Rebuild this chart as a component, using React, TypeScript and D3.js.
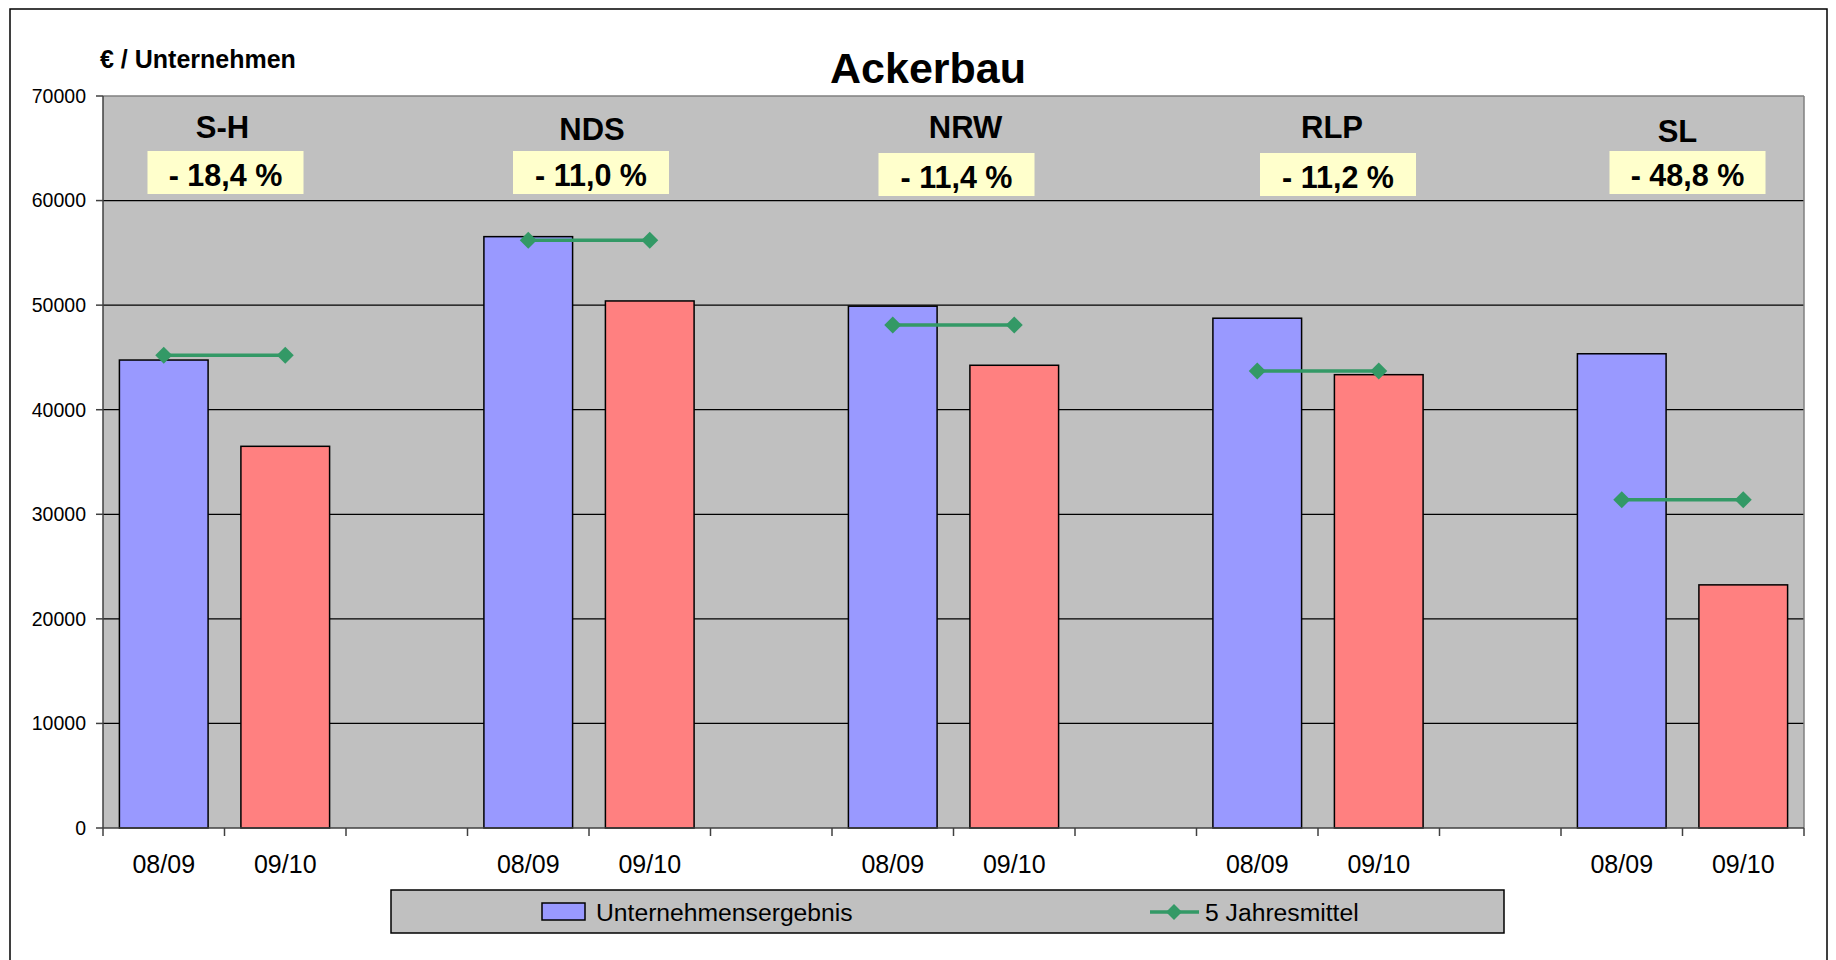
import React from "react";
import * as d3 from "d3";

const regions = ["S-H", "NDS", "NRW", "RLP", "SL"];
const changes = ["- 18,4 %", "- 11,0 %", "- 11,4 %", "- 11,2 %", "- 48,8 %"];
const years = ["08/09", "09/10"];
const result0809 = [44750, 56550, 49900, 48750, 45350];
const result0910 = [36500, 50400, 44250, 43350, 23250];
const avg5 = [45200, 56200, 48100, 43700, 31400];
const yTicks = [0, 10000, 20000, 30000, 40000, 50000, 60000, 70000];

// hand placed annotation nudges (text boxes in the original)
const labelNudge = [[-2, 0], [3, 2], [12, 0], [14, 0], [-5, 4]];
const boxNudge = [[1, 0], [2, 0], [3, 2], [20, 2], [5, 0]];

const FONT = "'Liberation Sans', Arial, sans-serif";
const W = 1836;
const H = 960;
const left = 103;
const right = 1804;
const top = 96;
const bottom = 828;

// slots: 08/09, 09/10, gap ... (no gap after last group)
const slots: { region: number; year: number }[] = [];
regions.forEach((_, r) => {
  years.forEach((_, yi) => slots.push({ region: r, year: yi }));
  if (r < regions.length - 1) slots.push({ region: r, year: -1 });
});

export default function App() {
  const x = d3
    .scaleBand<number>()
    .domain(slots.map((_, i) => i))
    .range([left, right])
    .padding(0);
  const bw = x.bandwidth();
  const y = d3.scaleLinear().domain([0, 70000]).range([bottom, top]);

  const slotIndex = (r: number, yi: number) =>
    slots.findIndex((s) => s.region === r && s.year === yi);
  const cx = (i: number) => (x(i) as number) + bw / 2;

  const bars: { i: number; v: number; fill: string }[] = [];
  regions.forEach((_, r) => {
    bars.push({ i: slotIndex(r, 0), v: result0809[r], fill: "#9999FF" });
    bars.push({ i: slotIndex(r, 1), v: result0910[r], fill: "#FF8080" });
  });

  const line = d3
    .line<[number, number]>()
    .x((d) => d[0])
    .y((d) => d[1]);

  const diamond = (px: number, py: number, s: number) =>
    `M${px},${py - s}L${px + s},${py}L${px},${py + s}L${px - s},${py}Z`;

  const boundaries = d3.range(slots.length + 1).map((i) =>
    i === slots.length ? right : (x(i) as number)
  );

  return (
    <svg
      width={W}
      height={H}
      style={{ position: "absolute", left: 0, top: 0, background: "#fff" }}
      fontFamily={FONT}
    >
      <rect x={10} y={9} width={1817} height={980} fill="#fff" stroke="#000" strokeWidth={1.5} />

      {/* plot area */}
      <rect x={left} y={top} width={right - left} height={bottom - top} fill="#C0C0C0" />
      {yTicks.slice(1, -1).map((t) => (
        <line key={t} x1={left} x2={right} y1={y(t)} y2={y(t)} stroke="#000" strokeWidth={1.2} />
      ))}
      <line x1={left} x2={right} y1={top} y2={top} stroke="#808080" strokeWidth={1.5} />
      <line x1={right} x2={right} y1={top} y2={bottom} stroke="#808080" strokeWidth={1.5} />

      {/* bars */}
      {bars.map((b, k) => (
        <rect
          key={k}
          x={(x(b.i) as number) + bw * 0.135}
          y={y(b.v)}
          width={bw * 0.73}
          height={y(0) - y(b.v)}
          fill={b.fill}
          stroke="#000"
          strokeWidth={1.5}
        />
      ))}

      {/* 5 Jahresmittel */}
      {regions.map((_, r) => {
        const p1: [number, number] = [cx(slotIndex(r, 0)), y(avg5[r])];
        const p2: [number, number] = [cx(slotIndex(r, 1)), y(avg5[r])];
        return (
          <g key={r}>
            <path d={line([p1, p2]) as string} stroke="#339966" strokeWidth={3.5} fill="none" />
            <path d={diamond(p1[0], p1[1], 8.5)} fill="#339966" />
            <path d={diamond(p2[0], p2[1], 8.5)} fill="#339966" />
          </g>
        );
      })}

      {/* axes */}
      <line x1={left} x2={left} y1={top} y2={bottom} stroke="#404040" strokeWidth={1.5} />
      <line x1={left} x2={right} y1={bottom} y2={bottom} stroke="#404040" strokeWidth={1.5} />
      {yTicks.map((t) => (
        <g key={t}>
          <line x1={left - 7} x2={left} y1={y(t)} y2={y(t)} stroke="#404040" strokeWidth={1.5} />
          <text x={86} y={y(t)} dy="0.35em" textAnchor="end" fontSize={19.5}>
            {t}
          </text>
        </g>
      ))}
      {boundaries.map((bx, i) => (
        <line key={i} x1={bx} x2={bx} y1={bottom} y2={bottom + 8} stroke="#404040" strokeWidth={1.5} />
      ))}
      {slots.map((s, i) =>
        s.year >= 0 ? (
          <text key={i} x={cx(i)} y={873} textAnchor="middle" fontSize={25}>
            {years[s.year]}
          </text>
        ) : null
      )}

      {/* region labels */}
      {regions.map((name, r) => {
        const gx = boundaries[slotIndex(r, 1)];
        const [lx, ly] = labelNudge[r];
        const [bxn, byn] = boxNudge[r];
        return (
          <g key={name}>
            <text x={gx + lx} y={138 + ly} textAnchor="middle" fontSize={31} fontWeight="bold">
              {name}
            </text>
            <rect x={gx + bxn - 78} y={151 + byn} width={156} height={43} fill="#FFFFCC" />
            <text x={gx + bxn} y={186 + byn} textAnchor="middle" fontSize={30.5} fontWeight="bold">
              {changes[r]}
            </text>
          </g>
        );
      })}

      {/* titles */}
      <text x={928} y={83} textAnchor="middle" fontSize={43} fontWeight="bold">
        Ackerbau
      </text>
      <text x={100} y={68} fontSize={25} fontWeight="bold">
        € / Unternehmen
      </text>

      {/* legend */}
      <rect x={391} y={890} width={1113} height={43} fill="#C0C0C0" stroke="#000" strokeWidth={1.5} />
      <rect x={542} y={903} width={43} height={17} fill="#9999FF" stroke="#000" strokeWidth={1.5} />
      <text x={596} y={921} fontSize={24.7}>
        Unternehmensergebnis
      </text>
      <path d={line([[1150, 912], [1199, 912]]) as string} stroke="#339966" strokeWidth={3.5} />
      <path d={diamond(1174, 912, 8)} fill="#339966" />
      <text x={1205} y={921} fontSize={24.7}>
        5 Jahresmittel
      </text>
    </svg>
  );
}
